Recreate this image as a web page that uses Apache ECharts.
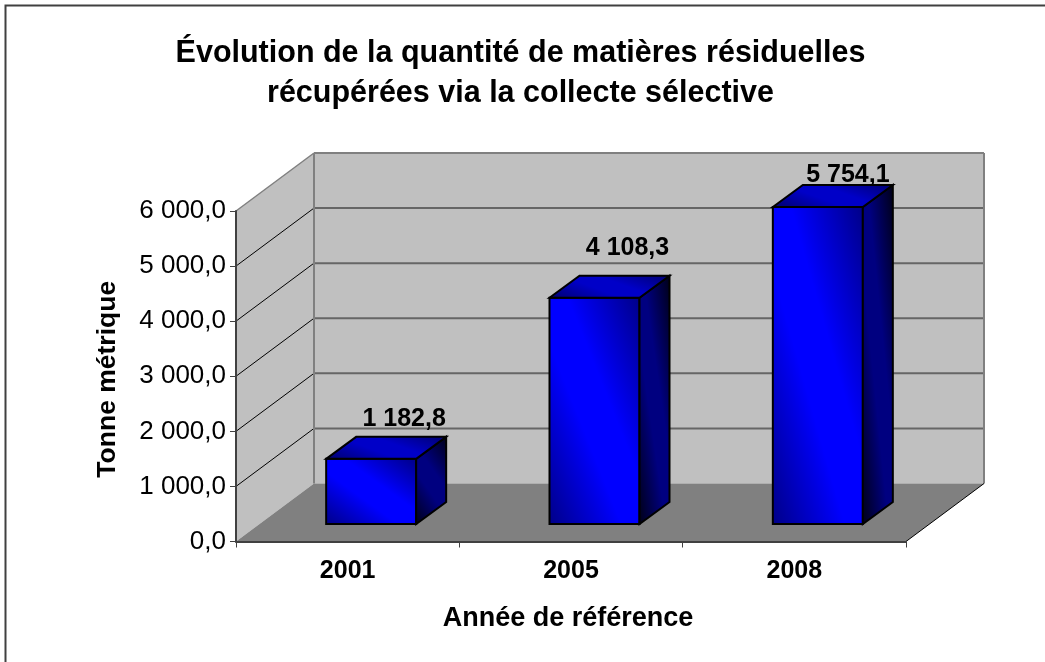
<!DOCTYPE html>
<html>
<head>
<meta charset="utf-8">
<title>Collecte sélective</title>
<style>
  html, body { margin: 0; padding: 0; background: #fff; }
  #chart { width: 1045px; height: 662px; }
</style>
<script src="https://cdn.jsdelivr.net/npm/echarts@6/dist/echarts.min.js"></script>
</head>
<body>
<div id="chart"></div>
<script>
const categories = ['2001', '2005', '2008'];
const values = [1182.8, 4108.3, 5754.1];
const yTicks = [0, 1000, 2000, 3000, 4000, 5000, 6000];

// hand placed data labels, relative to the bar's front top edge
const labelLift = [40, 50, 32];
const labelShift = [33, 33, 30];

// fake 3D: how far the back wall sits from the axes, and the bar's own depth
const wallDX = 78, wallDY = 58;
const barDX = 30, barDY = 22;
const floorDX = 23.5, floorDY = 17.5;
const barWidth = 90;

const FONT = '"Liberation Sans", Arial, sans-serif';

function fmt(v) {
  const s = v.toFixed(1).replace('.', ',');
  return s.replace(/\B(?=(\d{3})+(?!\d))/, '\u00a0');
}

// gradient whose iso lines follow the a-c diagonal, dark at b and d, bright on the diagonal
function diagGradient(a, b, c, d, dark, bright) {
  const dx = c[0] - a[0], dy = c[1] - a[1];
  const len = Math.hypot(dx, dy);
  const nx = dy / len, ny = -dx / len;
  const dist = p => (p[0] - a[0]) * nx + (p[1] - a[1]) * ny;
  const d1 = dist(b), d2 = dist(d);
  return new echarts.graphic.LinearGradient(
    a[0] + nx * d1, a[1] + ny * d1, a[0] + nx * d2, a[1] + ny * d2,
    [
      { offset: 0, color: dark },
      { offset: 0.4, color: bright },
      { offset: 0.6, color: bright },
      { offset: 1, color: dark }
    ],
    true
  );
}

function poly(points, fill) {
  return {
    type: 'polygon',
    shape: { points: points },
    style: { fill: fill, stroke: '#000', lineWidth: 2, lineJoin: 'miter' }
  };
}

function line(x1, y1, x2, y2, color, width) {
  return {
    type: 'line',
    shape: { x1: x1, y1: y1, x2: x2, y2: y2 },
    style: { stroke: color, lineWidth: width }
  };
}

function renderWalls(params, api) {
  const g = params.coordSys;
  const left = g.x, right = g.x + g.width;
  const y0 = api.coord([0, 0])[1], yTop = api.coord([0, yTicks[yTicks.length - 1]])[1];
  const kids = [];
  kids.push({ type: 'polygon', shape: { points: [[left, y0], [left + wallDX, y0 - wallDY], [left + wallDX, yTop - wallDY], [left, yTop]] }, style: { fill: '#c0c0c0' } });
  kids.push({ type: 'rect', shape: { x: left + wallDX, y: yTop - wallDY, width: g.width, height: y0 - yTop }, style: { fill: '#c0c0c0' } });
  kids.push({ type: 'polygon', shape: { points: [[left, y0], [right, y0], [right + wallDX, y0 - wallDY], [left + wallDX, y0 - wallDY]] }, style: { fill: '#808080' } });
  yTicks.forEach(function (t) {
    if (t === 0) return;
    const y = api.coord([0, t])[1];
    const top = t === yTicks[yTicks.length - 1];
    kids.push(line(left, y, left + wallDX, y - wallDY, top ? '#808080' : '#000', top ? 1.5 : 1));
    kids.push(line(left + wallDX, y - wallDY, right + wallDX, y - wallDY, top ? '#808080' : '#666', 2));
  });
  kids.push(line(left + wallDX, yTop - wallDY, left + wallDX, y0 - wallDY, '#808080', 2));
  kids.push(line(right + wallDX, yTop - wallDY, right + wallDX, y0 - wallDY, '#808080', 2));
  kids.push(line(right, y0, right + wallDX, y0 - wallDY, '#000', 1));
  return { type: 'group', children: kids };
}

function renderBar(params, api) {
  const i = api.value(0), v = api.value(1);
  const base = api.coord([i, 0]), top = api.coord([i, v]);
  const x0 = base[0] + floorDX - barWidth / 2, x1 = x0 + barWidth;
  const yb = base[1] - floorDY, yt = top[1] - floorDY;
  const fl = [x0, yt], fr = [x1, yt], br = [x1, yb], bl = [x0, yb];
  const tbl = [x0 + barDX, yt - barDY], tbr = [x1 + barDX, yt - barDY], bbr = [x1 + barDX, yb - barDY];
  return {
    type: 'group',
    children: [
      poly([fl, fr, br, bl], diagGradient(fl, fr, br, bl, '#000088', '#0000ff')),
      poly([fr, tbr, bbr, br], diagGradient(fr, tbr, bbr, br, '#000018', '#000080')),
      poly([fl, tbl, tbr, fr], diagGradient(tbl, tbr, fr, fl, '#000070', '#0000c8')),
      {
        type: 'text',
        style: {
          text: fmt(v), x: base[0] + floorDX + labelShift[i], y: top[1] - floorDY - labelLift[i],
          fill: '#000', font: 'bold 25px ' + FONT, align: 'center', verticalAlign: 'middle'
        }
      }
    ]
  };
}

const chart = echarts.init(document.getElementById('chart'), null, { renderer: 'canvas' });
chart.setOption({
  animation: false,
  backgroundColor: '#fff',
  title: {
    text: 'Évolution de la quantité de matières résiduelles\nrécupérées via la collecte sélective',
    left: 515.5, top: 29, textAlign: 'center',
    textStyle: { fontFamily: FONT, fontWeight: 'bold', fontSize: 30.5, lineHeight: 40, color: '#000' }
  },
  graphic: [
    { type: 'polyline', shape: { points: [[5.5, 662], [5.5, 5.5], [1045, 5.5]] }, style: { stroke: '#404040', fill: null, lineWidth: 2 } }
  ],
  grid: { left: 236, right: 139, top: 211, bottom: 120.5, containLabel: false },
  xAxis: {
    type: 'category',
    data: categories,
    name: 'Année de référence',
    nameLocation: 'middle',
    nameGap: 64,
    nameTextStyle: { fontFamily: FONT, fontWeight: 'bold', fontSize: 27, color: '#000', padding: [0, 6, 0, 0] },
    axisLine: { lineStyle: { color: '#404040', width: 2 } },
    axisTick: { show: true, length: 6, lineStyle: { color: '#404040', width: 1 } },
    axisLabel: { fontFamily: FONT, fontWeight: 'bold', fontSize: 25, color: '#000', margin: 17 },
    splitLine: { show: false },
    z: 5
  },
  yAxis: {
    type: 'value',
    min: 0, max: 6000, interval: 1000,
    name: 'Tonne métrique',
    nameLocation: 'middle',
    nameGap: 115,
    nameRotate: 90,
    nameTextStyle: { fontFamily: FONT, fontWeight: 'bold', fontSize: 26.5, color: '#000', padding: [0, 6, 0, 0] },
    axisLine: { show: true, lineStyle: { color: '#404040', width: 2 } },
    axisTick: { show: true, length: 6, lineStyle: { color: '#404040', width: 1 } },
    axisLabel: { fontFamily: FONT, fontSize: 26, color: '#000', margin: 10, formatter: fmt },
    splitLine: { show: false },
    z: 5
  },
  series: [
    { type: 'custom', name: 'walls', renderItem: renderWalls, data: [[0, 0]], silent: true, z: 1, clip: false },
    {
      type: 'custom', name: 'Tonne métrique', renderItem: renderBar, z: 2, clip: false,
      encode: { x: 0, y: 1 },
      data: values.map(function (v, i) { return [i, v]; })
    }
  ]
});
</script>
</body>
</html>
